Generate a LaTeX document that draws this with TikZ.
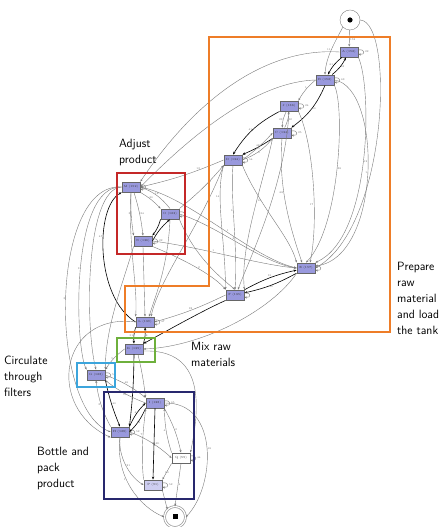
\documentclass[tikz,border=0pt]{standalone}
\usetikzlibrary{arrows.meta}
\definecolor{nodefill}{RGB}{153,153,221}
\definecolor{pfill}{RGB}{205,205,240}
\definecolor{orangeF}{RGB}{238,125,40}
\definecolor{redF}{RGB}{196,40,40}
\definecolor{greenF}{RGB}{110,176,60}
\definecolor{blueF}{RGB}{60,165,220}
\definecolor{navyF}{RGB}{40,40,110}
\newcommand{\selfloop}[2]{\draw[edg] ([yshift=2pt]#1.east) .. controls +(7,1.5) and +(7,-1.5) .. ([yshift=-2pt]#1.east) node[lab,anchor=west,xshift=6pt,yshift=2pt]{#2};}
\tikzset{
  box/.style={draw=black!60, line width=0.35pt, fill=nodefill, minimum width=18.5pt, minimum height=10.5pt, inner sep=0pt, text=black!80, font=\fontsize{3}{3}\selectfont},
  qbox/.style={box, fill=white},
  pbox/.style={box, fill=pfill},
  edg/.style={draw=black!52, line width=0.4pt, -{Stealth[length=2.6pt,width=2pt]}},
  dkedg/.style={draw=black, line width=0.6pt, -{Stealth[length=2.9pt,width=2.3pt]}},
  lab/.style={font=\fontsize{2.6}{3}\selectfont, text=black!60, inner sep=0.5pt},
  frame/.style={line width=2pt},
  grp/.style={anchor=north west, inner sep=0pt, align=left, font=\sffamily\fontsize{12}{16}\selectfont}
}
\begin{document}
\begin{tikzpicture}[x=1pt,y=1pt]
\useasboundingbox (0,0) rectangle (440,527);
\fill[white] (0,0) rectangle (440,527);
% nodes
\node[box] (A) at (349,475) {A (152)};
\node[box] (B) at (325,447) {B (152)};
\node[box] (J) at (289,421) {J (136)};
\node[box] (C) at (282,394) {C (134)};
\node[box] (D) at (233,367) {D (134)};
\node[box] (M) at (131,340) {M (152)};
\node[box] (O) at (170,313) {O (123)};
\node[box] (N) at (143,286) {N (136)};
\node[box] (E) at (306,259) {E (157)};
\node[box] (F) at (235,232) {F (135)};
\node[box] (L) at (145,205) {L (139)};
\node[box] (K) at (134,178) {K (139)};
\node[box] (G) at (96,152) {G (128)};
\node[box] (I) at (155,124) {I (128)};
\node[box] (H) at (120,95) {H (128)};
\node[qbox] (Q) at (181,69) {Q (59)};
\node[pbox] (P) at (153,42) {P (91)};
\node[circle, draw=black!50, line width=0.4pt, minimum size=20pt, inner sep=0pt] (st) at (350,507) {};
\fill[black] (st.center) circle (2.6);
\node[circle, draw=black!40, line width=0.7pt, double=white, double distance=1.2pt, minimum size=21pt, inner sep=0pt] (en) at (175,10) {};
\node[fill=black, minimum size=5pt, inner sep=0pt] (ensq) at (en.center) {};
% top cluster
\draw[edg] (st) -- node[lab,right,pos=.6]{152} (A);
\draw[edg] (st.south west) .. controls (335,485) and (326,470) .. (B.north) node[lab,pos=.5,left]{11};
\draw[edg] (st.east) .. controls (395,505) and (388,300) .. (E.east);
\draw[dkedg] (A) to[bend right=12] node[lab,left]{61} (B);
\draw[dkedg] (B) to[bend right=12] node[lab,right]{63} (A);
\selfloop{A}{22}
\selfloop{B}{63}
\draw[edg] (B.west) to[bend right=10] node[lab,above]{1} (J.north east);
\draw[dkedg] (B.south) to[bend left=15] node[lab,right]{60} (C.north east);
\draw[edg] (J) to[bend right=12] node[lab,left]{23} (C);
\draw[edg] (C) to[bend right=12] node[lab,right]{22} (J);
\selfloop{J}{24}
\selfloop{C}{25}
\draw[dkedg] (J.south west) to[bend right=15] node[lab,left]{41} (D.north);
\draw[dkedg] (C.south west) to[bend left=5] node[lab,above]{42} (D.north east);
\draw[edg] (D.east) to[bend right=5] node[lab,below]{15} (C.west);
\draw[edg] (D.east) to[bend right=14] node[lab,below]{5} (C.south west);
\selfloop{D}{54}
% orange to E / F
\draw[edg] (A.south east) .. controls (372,440) and (372,290) .. (E.north east) node[lab,pos=.5,right]{12};
\draw[edg] (B.east) .. controls (382,440) and (382,270) .. ([yshift=2pt]E.east) node[lab,pos=.5,left]{1};
\draw[edg] (B.south east) .. controls (345,420) and (340,300) .. (E.north) node[lab,pos=.5,right]{38};
\draw[edg] (J.south east) .. controls (315,380) and (318,300) .. ([xshift=4pt]E.north) node[lab,pos=.6,left]{17};
\draw[edg] (C.south) .. controls (278,340) and (290,300) .. ([xshift=-4pt]E.north) node[lab,pos=.4,left]{68};
\draw[edg] (D.south east) .. controls (260,320) and (290,290) .. (E.north west);
\draw[edg] (C.south west) .. controls (262,340) and (240,280) .. (F.north east) node[lab,pos=.4,right]{10};
\draw[edg] (D.south) .. controls (230,330) and (238,280) .. (F.north) node[lab,pos=.4,left]{9};
\draw[edg] (D.south west) .. controls (215,330) and (225,290) .. (F.north west) node[lab,pos=.3,left]{14};
\draw[edg] (J.south) .. controls (285,340) and (250,270) .. ([xshift=3pt]F.north);
\draw[dkedg] (F) to[bend left=8] node[lab,above]{31} (E);
\draw[dkedg] (E) to[bend left=8] node[lab,below]{10} (F);
\selfloop{E}{}
\selfloop{F}{}
% long curves to red cluster
\draw[edg] (A.west) .. controls (260,480) and (190,420) .. (M.north east) node[lab,pos=.6,above]{1};
\draw[edg] (B.west) .. controls (250,445) and (180,380) .. (M.east);
\draw[edg] (D.west) to[bend left=5] node[lab,above,pos=.3]{13} (M.east);
\draw[edg] (O.north east) to[bend right=5] node[lab,below,pos=.7]{5} (D.south west);
% red cluster
\draw[edg] (M.south east) to[bend left=8] node[lab,above]{30} (O.north west);
\draw[edg] (O.north) to[bend right=15] node[lab,above]{18} (M.east);
\draw[edg] (M.south) to[bend right=5] node[lab,left]{3} (N.north west);
\draw[edg] ([xshift=3pt]M.south) to[bend left=5] node[lab,right]{24} (N.north);
\draw[dkedg] (O.south west) to[bend left=10] (N.north east);
\draw[dkedg] (N.east) to[bend left=10] (O.south);
\selfloop{M}{}
\selfloop{O}{}
\selfloop{N}{22}
% red to E / F
\draw[edg] (M.east) .. controls (190,330) and (250,270) .. (E.west) node[lab,pos=.55,above]{1};
\draw[edg] (O.east) .. controls (220,300) and (260,265) .. (E.west) node[lab,pos=.45,above]{2};
\draw[edg] (N.east) .. controls (200,280) and (260,262) .. (E.west) node[lab,pos=.4,above]{1};
\draw[edg] (N.south east) .. controls (190,265) and (215,250) .. (F.north west) node[lab,pos=.5,above]{2};
\draw[edg] (O.south east) .. controls (195,270) and (220,250) .. (F.north);
% into L
\draw[edg] (M.south) .. controls (128,280) and (138,240) .. (L.north west);
\draw[edg] (N.south) -- (L.north);
\draw[edg] (O.south) .. controls (168,260) and (155,230) .. ([xshift=4pt]L.north);
\draw[edg] (D.south west) .. controls (200,300) and (160,250) .. ([xshift=6pt]L.north);
\draw[dkedg] (F.south west) .. controls (200,215) and (165,195) .. (K.north east);
\draw[edg] (F.west) to[bend left=5] node[lab,above]{32} (L.east);
\draw[dkedg] (L.west) .. controls (95,230) and (95,320) .. (M.south west) node[lab,pos=.6,left]{47};
% far left curves
\draw[edg] (M.west) .. controls (50,345) and (48,120) .. (H.west) node[lab,pos=.5,left]{3};
\draw[edg] (M.west) .. controls (70,342) and (75,180) .. (G.north west) node[lab,pos=.5,left]{3};
\draw[edg] (M.west) .. controls (85,338) and (85,200) .. (G.north);
\draw[edg] (L.west) .. controls (60,215) and (45,120) .. (H.south west);
\draw[edg] (N.south west) .. controls (125,250) and (105,200) .. (G.north east);
% L - K
\draw[dkedg] (L.south west) to[bend right=10] node[lab,left]{51} (K.north);
\draw[dkedg] (K.north east) to[bend right=10] node[lab,right]{8} (L.south);
\selfloop{L}{47}
\draw[edg] (E.south west) .. controls (270,215) and (200,180) .. (K.east);
\draw[edg] ([yshift=-2pt]K.east) .. controls (205,178) and (200,120) .. (Q.north east) node[lab,pos=.7,left]{2};
% K, G
\draw[edg] (K.west) to[bend right=10] node[lab,left]{5} (G.north east);
\draw[dkedg] (K.south) to[bend left=3] (H.north east);
\draw[edg] ([xshift=4pt]K.south) to[bend left=3] (I.north west);
\draw[dkedg] (G.south east) to[bend right=5] node[lab,right]{40} (H.north);
\draw[edg] (H.north west) to[bend left=10] node[lab,left]{2} (G.south);
\draw[edg] (G.east) to[bend left=8] node[lab,above]{48} (I.north west);
\draw[edg] (I.west) to[bend left=8] node[lab,below]{53} (G.south east);
\selfloop{G}{52}
% bottom
\draw[dkedg] (H.north east) to[bend left=10] node[lab,above]{44} (I.west);
\draw[dkedg] (I.south west) to[bend left=10] node[lab,below]{26} (H.east);
\selfloop{I}{65}
\selfloop{H}{52}
\draw[edg] (H.east) .. controls (150,88) and (165,75) .. (Q.west) node[lab,pos=.5,above]{1420};
\draw[edg] (Q.north west) to[bend left=8] node[lab,left]{4} (I.south east);
\draw[edg] (I.south east) to[bend left=8] node[lab,right]{3} (Q.north);
\draw[edg] (H.south) .. controls (118,70) and (130,50) .. (P.west) node[lab,pos=.5,right]{21};
\draw[edg] (P.north west) .. controls (140,80) and (145,110) .. (I.south west) node[lab,pos=.5,left]{7};
\draw[dkedg] (I.south) -- (P.north);
\draw[edg] (Q.south west) -- node[lab,below]{10} (P.north east);
\selfloop{Q}{44}
\selfloop{P}{52}
\draw[edg] (P.south east) -- node[lab,right]{53} (en.north west);
\draw[edg] (Q.south) -- node[lab,right]{4} (en.north);
\draw[edg] (H.south) .. controls (115,50) and (140,20) .. (en.west) node[lab,pos=.4,left]{1};
\draw[edg] (I.east) .. controls (220,125) and (215,40) .. (en.east) node[lab,pos=.5,right]{18};
% frames
\draw[orangeF, frame] (209,490) -- (390,490) -- (390,195) -- (125,195) -- (125,241) -- (209,241) -- cycle;
\draw[redF, frame, line width=2.3pt] (117,354) rectangle (185,273);
\draw[greenF, frame] (117,189) rectangle (155,165);
\draw[blueF, frame] (77,164) rectangle (115,140);
\draw[navyF, frame, line width=2.3pt] (104,135) rectangle (194,28);
% group labels
\node[grp] (t1) at (119,388) {Adjust\\product};
\node[grp] (t2) at (397,265) {Prepare\\raw\\material\\and load\\the tank};
\node[grp] (t3) at (191,185) {Mix raw\\materials};
\node[grp] (t4) at (4,171) {Circulate\\through\\filters};
\node[grp] (t5) at (37,80) {Bottle and\\pack\\product};
\end{tikzpicture}
\end{document}
